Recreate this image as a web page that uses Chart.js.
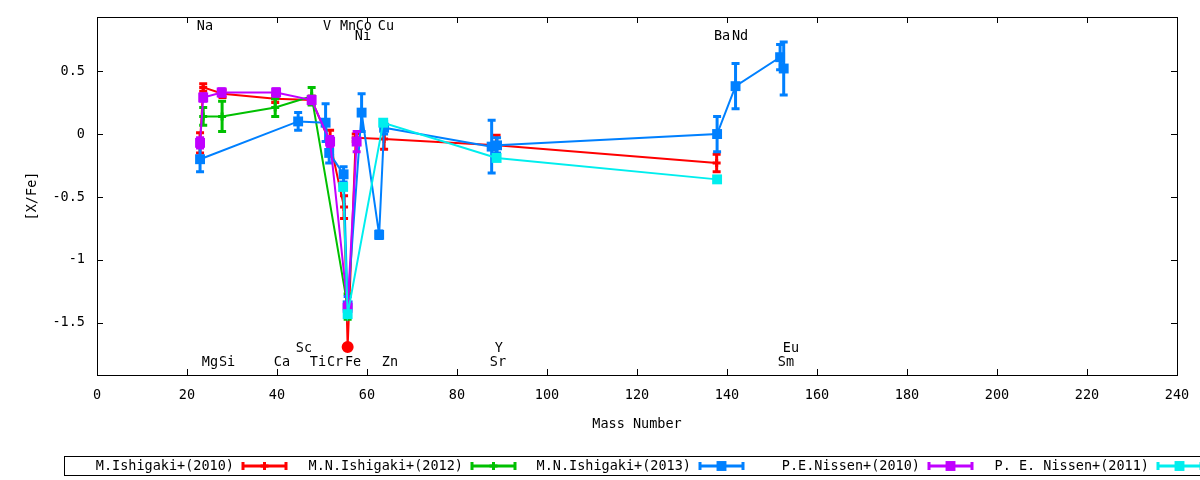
<!DOCTYPE html>
<html lang="en">
<head>
<meta charset="UTF-8">
<title>[X/Fe] vs Mass Number</title>
<style>
  html, body { margin: 0; padding: 0; background: #fff; }
</style>
</head>
<body>
<canvas id="canvas" width="1200" height="480"></canvas>
<script src="https://cdn.jsdelivr.net/npm/chart.js@4.4.0/dist/chart.umd.min.js"></script>
<script>
'use strict';

// ---- axis ticks ----
var xTicks = [0, 20, 40, 60, 80, 100, 120, 140, 160, 180, 200, 220, 240];
var yTicks = [-1.5, -1, -0.5, 0, 0.5];

// ---- M.Ishigaki+(2010) ----
var ishi10Mass = [22.9, 23.6, 27.9, 39.6, 47.7, 51.8, 54.9, 55.7, 57.5, 63.8, 88.8, 137.7];
var ishi10Val  = [-0.07, 0.37, 0.32, 0.28, 0.27, -0.07, -0.58, -1.69, -0.03, -0.04, -0.09, -0.23];
var ishi10Err  = [0.08, 0.03, 0.03, 0.03, 0.03, 0.1, 0.09, 0, 0.03, 0.08, 0.08, 0.07];

// ---- M.N.Ishigaki+(2012) ----
var ishi12Mass = [23.6, 27.8, 39.6, 47.7, 55.7];
var ishi12Val  = [0.14, 0.14, 0.21, 0.3, -1.37];
var ishi12Err  = [0.07, 0.12, 0.07, 0.07, 0.1];

// ---- M.N.Ishigaki+(2013) ----
var ishi13Mass = [22.9, 44.7, 50.8, 51.6, 54.8, 55.7, 58.8, 62.7, 63.8, 87.7, 88.9, 137.8, 141.9, 151.8, 152.6];
var ishi13Val  = [-0.2, 0.1, 0.09, -0.15, -0.32, -1.36, 0.17, -0.8, 0.05, -0.1, -0.09, 0.0, 0.38, 0.61, 0.52];
var ishi13Err  = [0.1, 0.07, 0.15, 0.08, 0.06, 0.07, 0.15, 0.03, 0.05, 0.21, 0.06, 0.14, 0.18, 0.1, 0.21];

// ---- P.E.Nissen+(2010) ----
var nis10Mass = [22.9, 23.6, 27.7, 39.8, 47.7, 51.8, 55.7, 57.7];
var nis10Val  = [-0.07, 0.29, 0.33, 0.33, 0.27, -0.06, -1.38, -0.06];
var nis10Err  = [0.04, 0.03, 0.03, 0.03, 0.03, 0.04, 0.04, 0.08];

// ---- P. E. Nissen+(2011) ----
var nis11Mass = [54.7, 55.7, 63.6, 88.8, 137.8];
var nis11Val  = [-0.42, -1.43, 0.09, -0.19, -0.36];
var nis11Err  = [0.02, 0.02, 0.02, 0.02, 0.02];

// ---- element labels (mass position, row) ----
var elemNames = ['Na', 'V', 'Mn', 'Co', 'Cu', 'Ni', 'Ba', 'Nd', 'Sc', 'Y', 'Eu', 'Mg', 'Si', 'Ca', 'Ti', 'Cr', 'Fe', 'Zn', 'Sr', 'Sm'];
var elemMass  = [24.0, 51.1, 55.8, 59.3, 64.2, 59.1, 138.9, 142.9, 46.0, 89.3, 154.2, 25.1, 28.9, 41.1, 49.1, 52.9, 56.9, 65.1, 89.1, 153.1];
var elemRow   = [0, 0, 0, 0, 0, 1, 1, 1, 2, 2, 2, 3, 3, 3, 3, 3, 3, 3, 3, 3];
var rowLevel  = [0.852, 0.772, -1.704, -1.815];

var FONT = '"DejaVu Sans Mono", monospace';
var FONT_SIZE = 13.5;

function points(mass, val) {
  return mass.map(function(m, i) { return { x: m, y: val[i] }; });
}

// red series: crosses, except the filled circle at Fe
var redStyle = ishi10Mass.map(function(m, i) { return ishi10Err[i] === 0 ? 'circle' : 'cross'; });
var redRadius = ishi10Mass.map(function(m, i) { return ishi10Err[i] === 0 ? 4.5 : 4; });

function makeSet(label, mass, val, err, color, style, radius, order) {
  return {
    label: label,
    data: points(mass, val),
    errors: err,
    showLine: true,
    borderColor: color,
    backgroundColor: color,
    borderWidth: 2,
    pointStyle: style,
    pointRadius: radius,
    pointBorderWidth: style === 'rect' ? 0 : 3,
    pointHoverRadius: radius,
    tension: 0,
    order: order
  };
}

// error bars drawn under each dataset, through the chart scales
var errorBars = {
  id: 'errorBars',
  beforeDatasetDraw: function(chart, args) {
    var ds = chart.data.datasets[args.index];
    if (!ds.errors) return;
    var ctx = chart.ctx, xs = chart.scales.x, ys = chart.scales.y;
    ctx.save();
    ctx.strokeStyle = ds.borderColor;
    ctx.lineWidth = 3;
    ds.data.forEach(function(p, i) {
      var e = ds.errors[i];
      if (!e) return;
      var px = xs.getPixelForValue(p.x);
      var top = ys.getPixelForValue(p.y + e);
      var bot = ys.getPixelForValue(p.y - e);
      ctx.beginPath();
      ctx.moveTo(px, top); ctx.lineTo(px, bot);
      ctx.moveTo(px - 4, top); ctx.lineTo(px + 4, top);
      ctx.moveTo(px - 4, bot); ctx.lineTo(px + 4, bot);
      ctx.stroke();
    });
    ctx.restore();
  }
};

// frame, mirrored inward ticks, titles, element names, key box
var decorations = {
  id: 'decorations',
  beforeDatasetsDraw: function(chart) {
    var ctx = chart.ctx, a = chart.chartArea;
    var xs = chart.scales.x, ys = chart.scales.y;
    ctx.save();
    ctx.strokeStyle = '#000';
    ctx.lineWidth = 1;
    ctx.beginPath();
    xTicks.forEach(function(v) {
      var px = Math.round(xs.getPixelForValue(v)) + 0.5;
      ctx.moveTo(px, a.bottom); ctx.lineTo(px, a.bottom - 6);
      ctx.moveTo(px, a.top); ctx.lineTo(px, a.top + 6);
    });
    yTicks.forEach(function(v) {
      var py = Math.round(ys.getPixelForValue(v)) + 0.5;
      ctx.moveTo(a.left, py); ctx.lineTo(a.left + 6, py);
      ctx.moveTo(a.right, py); ctx.lineTo(a.right - 6, py);
    });
    ctx.stroke();

    ctx.fillStyle = '#000';
    ctx.font = FONT_SIZE + 'px ' + FONT;
    ctx.textAlign = 'center';
    ctx.textBaseline = 'middle';
    elemNames.forEach(function(n, i) {
      ctx.fillText(n, xs.getPixelForValue(elemMass[i]), ys.getPixelForValue(rowLevel[elemRow[i]]));
    });
    ctx.restore();
  },
  afterDraw: function(chart) {
    var ctx = chart.ctx, a = chart.chartArea;
    ctx.save();
    ctx.strokeStyle = '#000';
    ctx.lineWidth = 1;
    ctx.strokeRect(Math.round(a.left) + 0.5, Math.round(a.top) + 0.5,
      Math.round(a.right - a.left), Math.round(a.bottom - a.top));

    ctx.fillStyle = '#000';
    ctx.font = FONT_SIZE + 'px ' + FONT;
    ctx.textAlign = 'center';
    ctx.textBaseline = 'middle';
    ctx.fillText('Mass Number', (a.left + a.right) / 2, 424);
    ctx.save();
    ctx.translate(32, (a.top + a.bottom) / 2);
    ctx.rotate(-Math.PI / 2);
    ctx.fillText('[X/Fe]', 0, 0);
    ctx.restore();

    // key
    ctx.strokeRect(64.5, 456.5, 1200, 19);
    var ends = [234, 463, 691, 920, 1149];
    ctx.textAlign = 'right';
    chart.data.datasets.forEach(function(ds, i) {
      var yy = 466;
      ctx.fillStyle = '#000';
      ctx.fillText(ds.label, ends[i], yy);
      var x0 = ends[i] + 9, x1 = ends[i] + 52, xm = (x0 + x1) / 2;
      ctx.strokeStyle = ds.borderColor;
      ctx.lineWidth = 3;
      ctx.beginPath();
      ctx.moveTo(x0, yy); ctx.lineTo(x1, yy);
      ctx.moveTo(x0, yy - 4); ctx.lineTo(x0, yy + 4);
      ctx.moveTo(x1, yy - 4); ctx.lineTo(x1, yy + 4);
      ctx.stroke();
      var st = Array.isArray(ds.pointStyle) ? ds.pointStyle[1] : ds.pointStyle;
      ctx.fillStyle = ds.backgroundColor;
      Chart.helpers.drawPoint(ctx, {
        pointStyle: st, radius: st === 'rect' ? 7 : 4, borderWidth: st === 'rect' ? 0 : 3, rotation: 0
      }, xm, yy);
    });
    ctx.restore();
  }
};

var config = {
  type: 'scatter',
  data: {
    datasets: [
      makeSet('M.Ishigaki+(2010)', ishi10Mass, ishi10Val, ishi10Err, '#ff0000', redStyle, redRadius, 5),
      makeSet('M.N.Ishigaki+(2012)', ishi12Mass, ishi12Val, ishi12Err, '#00c000', 'cross', 4, 4),
      makeSet('M.N.Ishigaki+(2013)', ishi13Mass, ishi13Val, ishi13Err, '#0080ff', 'rect', 7, 3),
      makeSet('P.E.Nissen+(2010)', nis10Mass, nis10Val, nis10Err, '#c000ff', 'rect', 7, 2),
      makeSet('P. E. Nissen+(2011)', nis11Mass, nis11Val, nis11Err, '#00eeee', 'rect', 7, 1)
    ]
  },
  options: {
    responsive: false,
    animation: false,
    devicePixelRatio: 1,
    layout: { padding: { left: 0, top: 17, right: 23, bottom: 65 } },
    plugins: {
      legend: { display: false },
      tooltip: { enabled: false }
    },
    scales: {
      x: {
        type: 'linear',
        min: 0,
        max: 240,
        afterBuildTicks: function(axis) { axis.ticks = xTicks.map(function(v) { return { value: v }; }); },
        afterFit: function(axis) { axis.height = 40; axis.paddingLeft = 0; axis.paddingRight = 0; },
        grid: { display: false, drawTicks: false },
        border: { display: false },
        ticks: { color: '#000', padding: 12, maxRotation: 0, font: { family: FONT, size: FONT_SIZE } }
      },
      y: {
        type: 'linear',
        min: -1.913,
        max: 0.929,
        afterBuildTicks: function(axis) { axis.ticks = yTicks.map(function(v) { return { value: v }; }); },
        afterFit: function(axis) { axis.width = 97; axis.paddingTop = 0; axis.paddingBottom = 0; },
        grid: { display: false, drawTicks: false },
        border: { display: false },
        ticks: {
          color: '#000', padding: 12, font: { family: FONT, size: FONT_SIZE },
          callback: function(v) { return String(v); }
        }
      }
    }
  },
  plugins: [errorBars, decorations]
};

var ctx = document.getElementById('canvas').getContext('2d');
var chart = new Chart(ctx, config);
</script>
</body>
</html>
